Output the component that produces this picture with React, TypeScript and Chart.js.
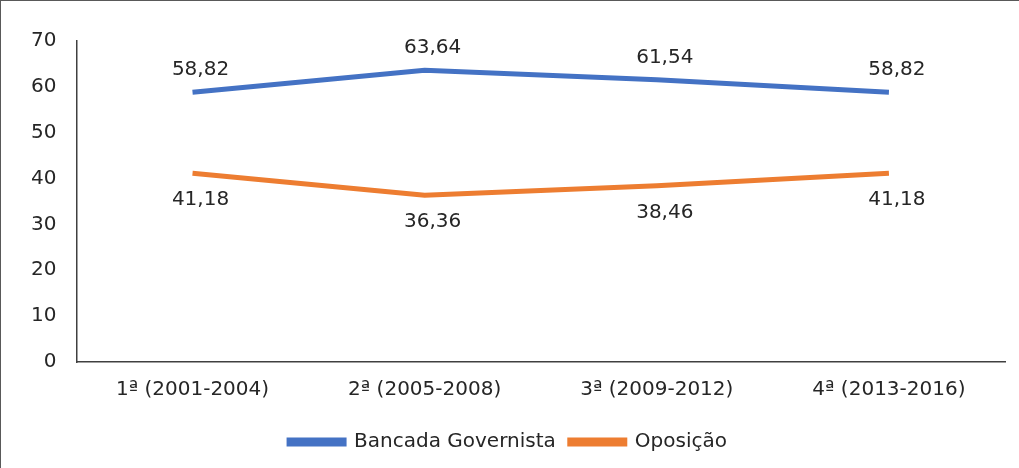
import React, { useRef, useEffect } from 'react';
import Chart from 'chart.js/auto';

const categories = ['1ª (2001-2004)', '2ª (2005-2008)', '3ª (2009-2012)', '4ª (2013-2016)'];
const governista = [58.82, 63.64, 61.54, 58.82];
const oposicao = [41.18, 36.36, 38.46, 41.18];

const FONT = "'DejaVu Sans', Verdana, sans-serif";

const labelPlugin = {
    id: 'valueLabels',
    afterDatasetsDraw(chart: any) {
        const ctx = chart.ctx;
        ctx.save();
        ctx.font = `20px ${FONT}`;
        ctx.fillStyle = '#262626';
        ctx.textAlign = 'center';
        ctx.textBaseline = 'middle';
        chart.data.datasets.forEach((ds: any, i: number) => {
            const meta = chart.getDatasetMeta(i);
            meta.data.forEach((pt: any, j: number) => {
                const txt = ds.data[j].toFixed(2).replace('.', ',');
                const dy = i === 0 ? -22 : 27;
                ctx.fillText(txt, pt.x + 8, pt.y + dy);
            });
        });
        ctx.restore();
    },
};

const App: React.FC = () => {
    const canvasRef = useRef<HTMLCanvasElement>(null);

    useEffect(() => {
        document.body.style.margin = '0';
        if (!canvasRef.current) return;
        const chart = new Chart(canvasRef.current, {
            type: 'line',
            data: {
                labels: categories,
                datasets: [
                    { label: 'Bancada Governista', data: governista, borderColor: '#4472c4', backgroundColor: '#4472c4', borderWidth: 5, pointRadius: 0, tension: 0 },
                    { label: 'Oposição', data: oposicao, borderColor: '#ed7d31', backgroundColor: '#ed7d31', borderWidth: 5, pointRadius: 0, tension: 0 },
                ],
            },
            options: {
                animation: false,
                responsive: true,
                maintainAspectRatio: false,
                layout: { padding: { left: 10, right: 14, top: 40, bottom: 6 } },
                scales: {
                    x: {
                        offset: true,
                        grid: { display: false, drawTicks: false },
                        border: { color: '#404040', width: 1.5 },
                        ticks: { color: '#262626', font: { family: FONT, size: 20 }, padding: 16, maxRotation: 0 },
                    },
                    y: {
                        min: 0, max: 70,
                        grid: { display: false, drawTicks: false },
                        border: { color: '#404040', width: 1.5 },
                        ticks: { stepSize: 10, color: '#262626', font: { family: FONT, size: 20 }, padding: 20 },
                    },
                },
                plugins: {
                    legend: {
                        position: 'bottom',
                        labels: { color: '#262626', font: { family: FONT, size: 20 }, boxWidth: 55, boxHeight: 4, padding: 14 },
                    },
                    tooltip: { enabled: false },
                },
            },
            plugins: [labelPlugin],
        });
        return () => chart.destroy();
    }, []);

    return (
        <div style={{ width: 1019, height: 468, boxSizing: 'border-box', border: '1.5px solid #595959', borderRight: 'none', borderBottom: 'none', background: '#fff' }}>
            <canvas ref={canvasRef}></canvas>
        </div>
    );
};

export default App;
